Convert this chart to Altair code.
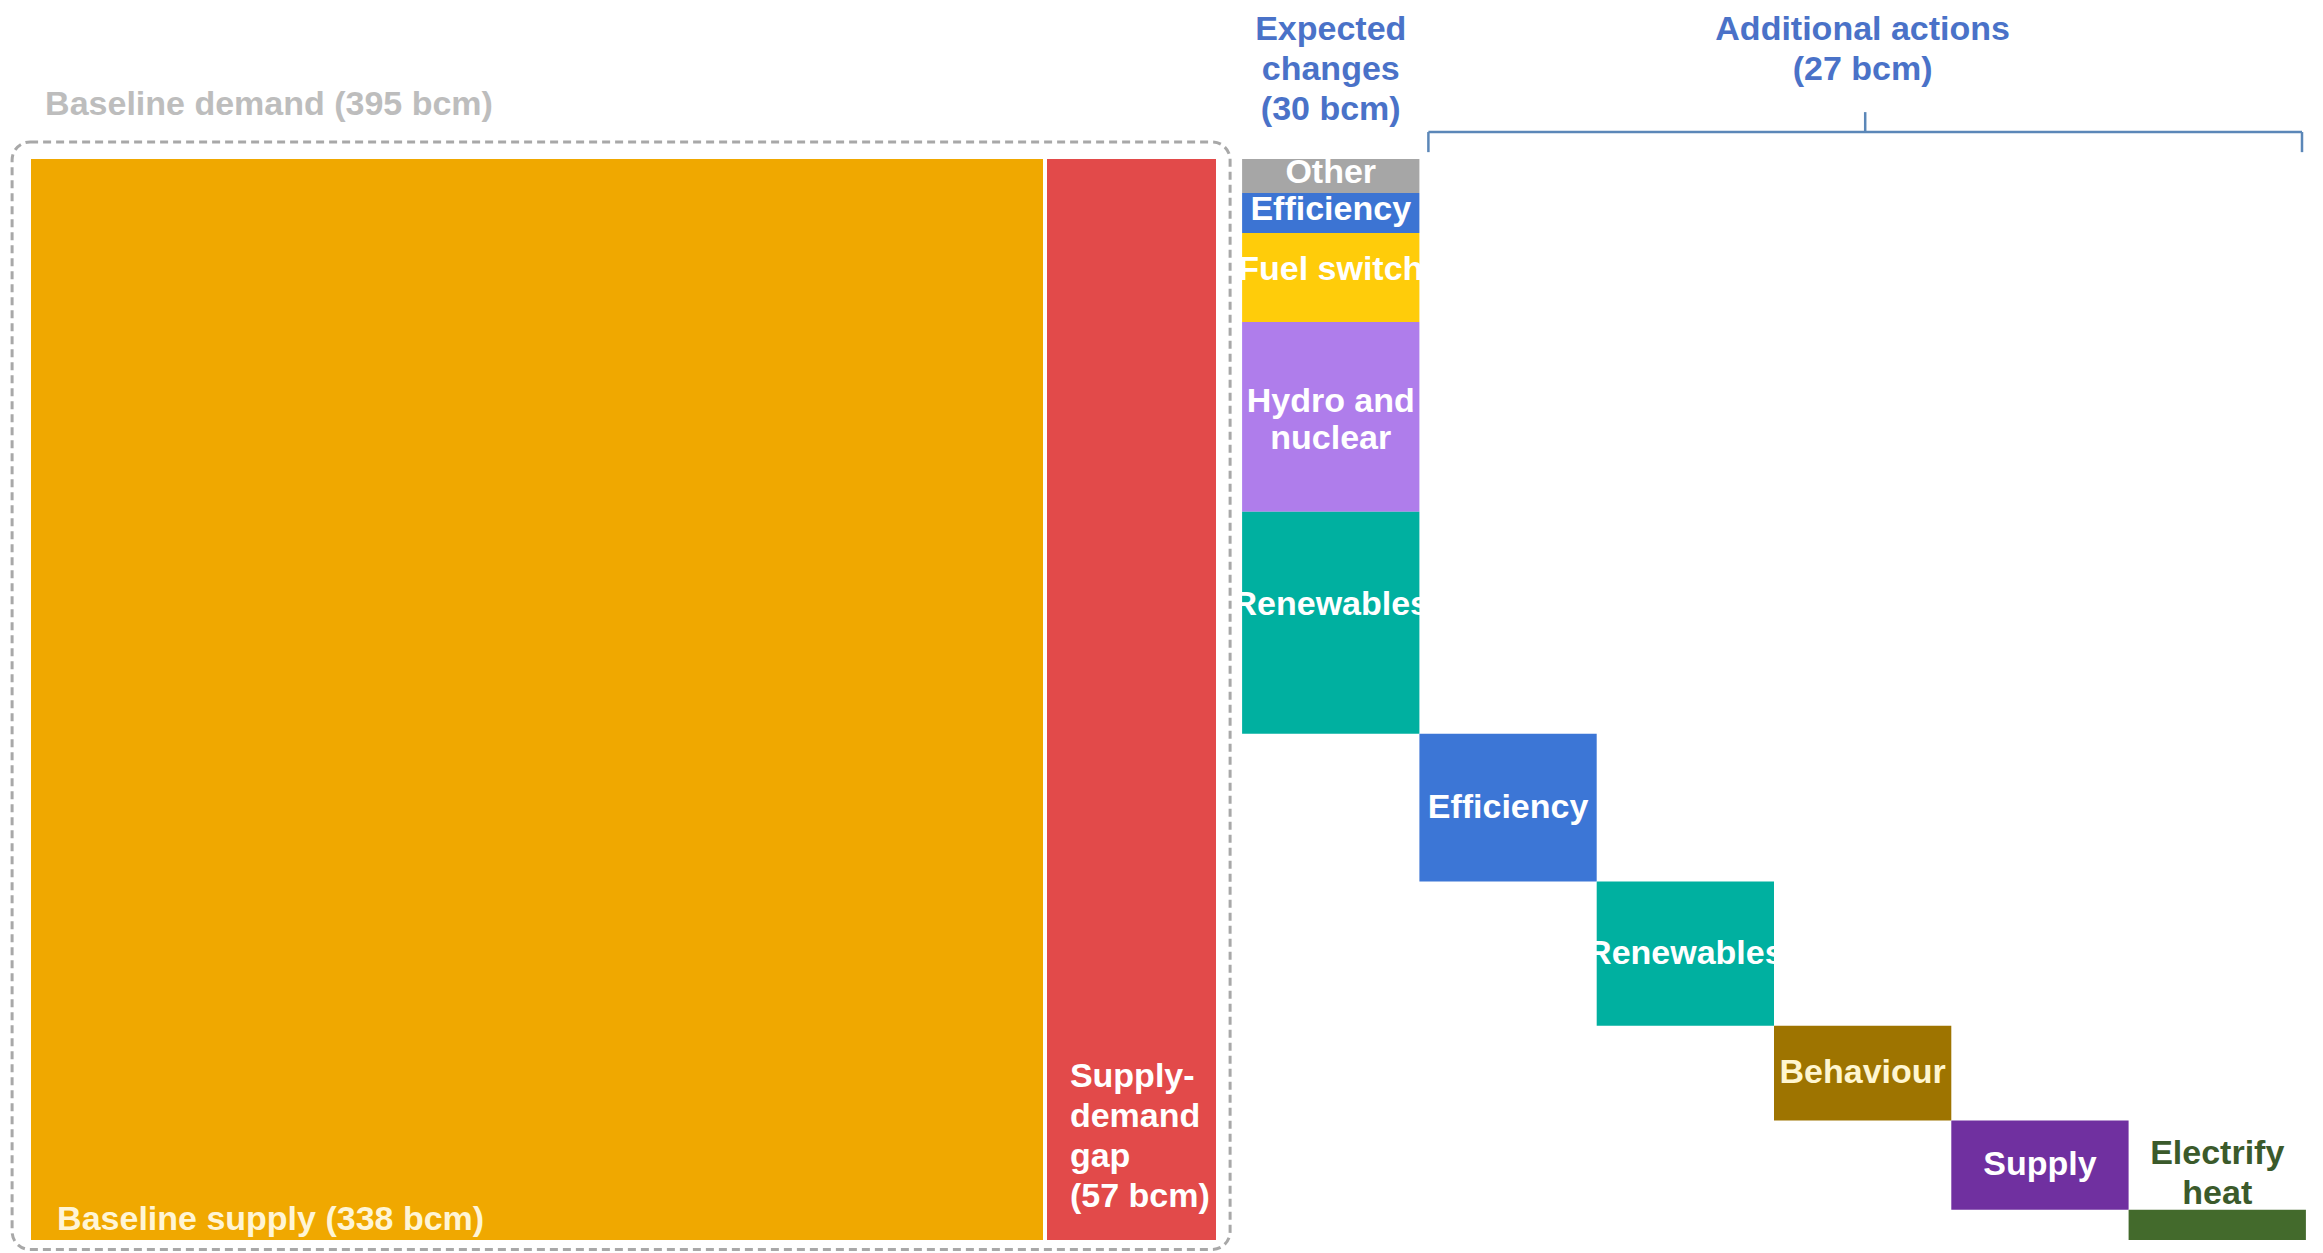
import altair as alt
import pandas as pd

# ---------------- data (bcm) ----------------
baseline_supply = 338
baseline_demand = 395
gap = 57

expected_labels = ["Other", "Efficiency", "Fuel switch", "Hydro and\nnuclear", "Renewables"]
expected_values = [1.8, 2.1, 4.7, 10.0, 11.7]
expected_colors = ["#A6A6A6", "#3C74D3", "#FFCC0A", "#AF7DEB", "#00B0A0"]

additional_labels = ["Efficiency", "Renewables", "Behaviour", "Supply", "Electrify\nheat"]
additional_values = [7.8, 7.6, 5.0, 4.7, 1.6]
additional_colors = ["#3C76D6", "#00B0A0", "#9E7400", "#7030A0", "#436A2C"]
additional_text_colors = ["#FFFFFF", "#FFFFFF", "#FFF6D0", "#FFFFFF", "#3B5A2B"]

header_expected = "Expected\nchanges\n(30 bcm)"
header_additional = "Additional actions\n(27 bcm)"
label_demand = "Baseline demand (395 bcm)"
label_supply = "Baseline supply (338 bcm)"
label_gap = "Supply-\ndemand\ngap\n(57 bcm)"

# ---------------- layout constants ----------------
GAP_X = 8.7      # space between demand block and step columns (x units)
COL = 59.1       # width of each step column (x units)
EXP_LABEL_FRAC = 0.42  # label position within expected-change segments (from top)
W, H = 2307, 1245
FONT = "Liberation Sans, Arial, sans-serif"
FS = 34
BLUE = "#4A72C8"

# ---------------- build rectangles ----------------
rects = []
rects.append(dict(x=0, x2=baseline_supply, y=0, y2=gap, color="#F0A800", name="supply"))
rects.append(dict(x=baseline_supply, x2=baseline_demand, y=0, y2=gap, color="#E24A4A", name="gap"))

labels = []
start = baseline_demand + GAP_X
top = gap
for lab, v, c in zip(expected_labels, expected_values, expected_colors):
    rects.append(dict(x=start, x2=start + COL, y=top - v, y2=top, color=c, name=lab))
    labels.append(dict(x=start + COL / 2, y=top - v * EXP_LABEL_FRAC, text=lab,
                       tcolor="#FFFFFF", pos="mid"))
    top -= v

for i, (lab, v, c, tc) in enumerate(zip(additional_labels, additional_values,
                                        additional_colors, additional_text_colors)):
    x0 = start + COL * (i + 1)
    rects.append(dict(x=x0, x2=x0 + COL, y=top - v, y2=top, color=c, name=lab))
    if i == len(additional_labels) - 1:
        labels.append(dict(x=x0 + COL / 2, y=top, text=lab, tcolor=tc, pos="above"))
    else:
        labels.append(dict(x=x0 + COL / 2, y=top - v / 2, text=lab, tcolor=tc, pos="mid"))
    top -= v

rect_df = pd.DataFrame(rects)
label_df = pd.DataFrame(labels)

xs = alt.Scale(domain=[-23 / 3, 2284 / 3], nice=False, zero=False)
ys = alt.Scale(domain=[-0.685, 64.96], nice=False, zero=False)

base_rects = alt.Chart(rect_df).mark_rect().encode(
    x=alt.X("x:Q", scale=xs, axis=None),
    x2="x2:Q",
    y=alt.Y("y:Q", scale=ys, axis=None),
    y2="y2:Q",
    color=alt.Color("color:N", scale=None),
)

# thin white separator between supply and gap
sep = alt.Chart(pd.DataFrame([dict(x=baseline_supply, y=0, y2=gap)])).mark_rule(
    color="white", strokeWidth=4
).encode(x="x:Q", y="y:Q", y2="y2:Q")

# dashed rounded box around baseline demand
box_df = pd.DataFrame([dict(x=-6.3, x2=baseline_demand + 4.7, y=-0.5, y2=gap + 0.9)])
box = alt.Chart(box_df).mark_rect(
    fillOpacity=0, stroke="#A8A8A8", strokeWidth=3, strokeDash=[8, 5], cornerRadius=18
).encode(x="x:Q", x2="x2:Q", y="y:Q", y2="y2:Q")

mid_labels = alt.Chart(label_df[label_df["pos"] == "mid"]).mark_text(
    font=FONT, fontSize=FS, fontWeight="bold", align="center", baseline="middle",
    lineBreak="\n", lineHeight=37
).encode(x="x:Q", y="y:Q", text="text:N", color=alt.Color("tcolor:N", scale=None))

above_labels = alt.Chart(label_df[label_df["pos"] == "above"]).mark_text(
    font=FONT, fontSize=FS, fontWeight="bold", align="center", baseline="middle",
    lineBreak="\n", lineHeight=40, dy=-56
).encode(x="x:Q", y="y:Q", text="text:N", color=alt.Color("tcolor:N", scale=None))

# block labels
supply_lab = alt.Chart(pd.DataFrame([dict(x=8.7, y=0.53, text=label_supply)])).mark_text(
    font=FONT, fontSize=FS, fontWeight="bold", align="left", baseline="alphabetic", color="#FFF5D6"
).encode(x="x:Q", y="y:Q", text="text:N")

gap_lab = alt.Chart(pd.DataFrame([dict(x=baseline_supply + 8.3, y=8.07, text=label_gap)])).mark_text(
    font=FONT, fontSize=FS, fontWeight="bold", align="left", baseline="alphabetic",
    lineBreak="\n", lineHeight=40, color="#FFFFFF"
).encode(x="x:Q", y="y:Q", text="text:N")

demand_lab = alt.Chart(pd.DataFrame([dict(x=4.7, y=59.3, text=label_demand)])).mark_text(
    font=FONT, fontSize=FS, fontWeight="bold", align="left", baseline="alphabetic", color="#BDBDBD"
).encode(x="x:Q", y="y:Q", text="text:N")

add_start = start + COL
add_end = start + COL * (len(additional_labels) + 1)
head_df = pd.DataFrame([
    dict(x=start + COL / 2, y=63.27, text=header_expected),
    dict(x=(add_start + add_end) / 2, y=63.27, text=header_additional),
])
headers = alt.Chart(head_df).mark_text(
    font=FONT, fontSize=FS, fontWeight="bold", align="center", baseline="alphabetic",
    lineBreak="\n", lineHeight=40, color=BLUE
).encode(x="x:Q", y="y:Q", text="text:N")

# bracket over additional actions
bx0, bx1 = add_start + 3, add_end - 1.3
by = 58.42
br_df = pd.DataFrame([
    dict(x=bx0, x2=bx1, y=by, y2=by),
    dict(x=bx0, x2=bx0, y=by, y2=57.36),
    dict(x=bx1, x2=bx1, y=by, y2=57.36),
    dict(x=(bx0 + bx1) / 2, x2=(bx0 + bx1) / 2, y=by, y2=59.47),
])
bracket = alt.Chart(br_df).mark_rule(color="#5B87B8", strokeWidth=2.5).encode(
    x="x:Q", x2="x2:Q", y="y:Q", y2="y2:Q"
)

chart = alt.layer(
    base_rects, sep, box, mid_labels, above_labels, supply_lab, gap_lab,
    demand_lab, headers, bracket
).properties(
    width=W, height=H, padding=0, autosize="none", background="white"
).configure_view(stroke=None)

chart.save("out.html", embed_options={"renderer": "svg", "actions": False})
